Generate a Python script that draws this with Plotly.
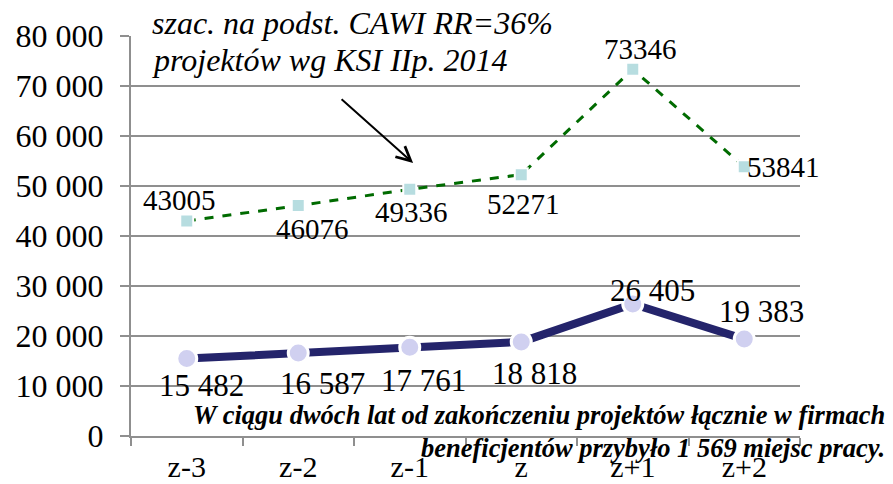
import plotly.graph_objects as go

categories = ['z-3', 'z-2', 'z-1', 'z', 'z+1', 'z+2']
estimated = [43005, 46076, 49336, 52271, 73346, 53841]
actual = [15482, 16587, 17761, 18818, 26405, 19383]
y_ticks = [0, 10000, 20000, 30000, 40000, 50000, 60000, 70000, 80000]

# label offsets (px) for each point
est_shift = [(-7, 21), (14, -23), (2, -23), (2, -29), (8, 20), (39, 0)]
act_shift = [(15, -27), (24, -30), (14, -33), (13, -32), (20, 13), (17, 28)]

serif = 'Liberation Serif'
grid = '#8f8f8f'


def fmt(v):
    return f'{v:,}'.replace(',', ' ')


fig = go.Figure()
fig.add_trace(go.Scatter(
    x=categories, y=estimated, mode='lines+markers',
    line=dict(color='#006b00', width=3, dash='dash'),
    marker=dict(symbol='square', size=13, color='#b7dde0', line=dict(color='white', width=2)),
    hoverinfo='skip'))
fig.add_trace(go.Scatter(
    x=categories, y=actual, mode='lines+markers',
    line=dict(color='#24246b', width=8),
    marker=dict(symbol='circle', size=20, color='#d0d0f0', line=dict(color='white', width=3)),
    hoverinfo='skip'))

ann = []
for c, v, (dx, dy) in zip(categories, estimated, est_shift):
    ann.append(dict(x=c, y=v, text=str(v), showarrow=False, xshift=dx, yshift=dy,
                    font=dict(family=serif, size=29, color='black')))
for c, v, (dx, dy) in zip(categories, actual, act_shift):
    ann.append(dict(x=c, y=v, text=fmt(v), showarrow=False, xshift=dx, yshift=dy,
                    font=dict(family=serif, size=31, color='black')))

ann.append(dict(xref='paper', yref='paper', x=0.028, y=1.033, xanchor='left', yanchor='middle',
                text='<i>szac. na podst. CAWI RR=36%</i>', showarrow=False,
                font=dict(family=serif, size=32, color='black')))
ann.append(dict(xref='paper', yref='paper', x=0.028, y=0.94, xanchor='left', yanchor='middle',
                text='<i>projektów wg KSI IIp. 2014</i>', showarrow=False,
                font=dict(family=serif, size=32, color='black')))
ann.append(dict(x=2.03, y=54600, ax=-73, ay=-65, showarrow=True, arrowhead=5,
                arrowsize=1.4, arrowwidth=2, arrowcolor='black', text=''))
ann.append(dict(xref='paper', yref='paper', x=1.13, y=0.053, xanchor='right', yanchor='middle',
                text='<b><i>W ciągu dwóch lat od zakończeniu projektów łącznie w firmach</i></b>',
                showarrow=False, font=dict(family=serif, size=26.5, color='black')))
ann.append(dict(xref='paper', yref='paper', x=1.13, y=-0.03, xanchor='right', yanchor='middle',
                text='<b><i>beneficjentów przybyło 1 569 miejsc pracy.</i></b>',
                showarrow=False, font=dict(family=serif, size=26.5, color='black')))

# page has an 8px body margin, so the figure is 8px smaller than the window
fig.update_layout(
    width=885, height=476,
    margin=dict(l=123, r=93, t=28, b=48),
    paper_bgcolor='white', plot_bgcolor='white',
    showlegend=False,
    annotations=ann,
    font=dict(family=serif, size=29, color='black'),
)
fig.update_xaxes(type='category', range=[-0.5, 5.5], showgrid=False, automargin=False,
                 showline=True, linecolor=grid, linewidth=2,
                 ticks='outside', tickson='boundaries', ticklen=8, tickcolor=grid, tickwidth=2,
                 ticklabelstandoff=3,
                 tickfont=dict(family=serif, size=30, color='black'))
fig.update_yaxes(range=[0, 80000], tickvals=y_ticks, ticktext=[fmt(t) for t in y_ticks],
                 automargin=False,
                 showgrid=True, gridcolor=grid, gridwidth=2, zeroline=False,
                 showline=True, linecolor=grid, linewidth=2,
                 ticks='outside', ticklen=9, tickcolor=grid, tickwidth=2,
                 ticklabelstandoff=10,
                 tickfont=dict(family=serif, size=32, color='black'))

fig.write_html('out.html')
